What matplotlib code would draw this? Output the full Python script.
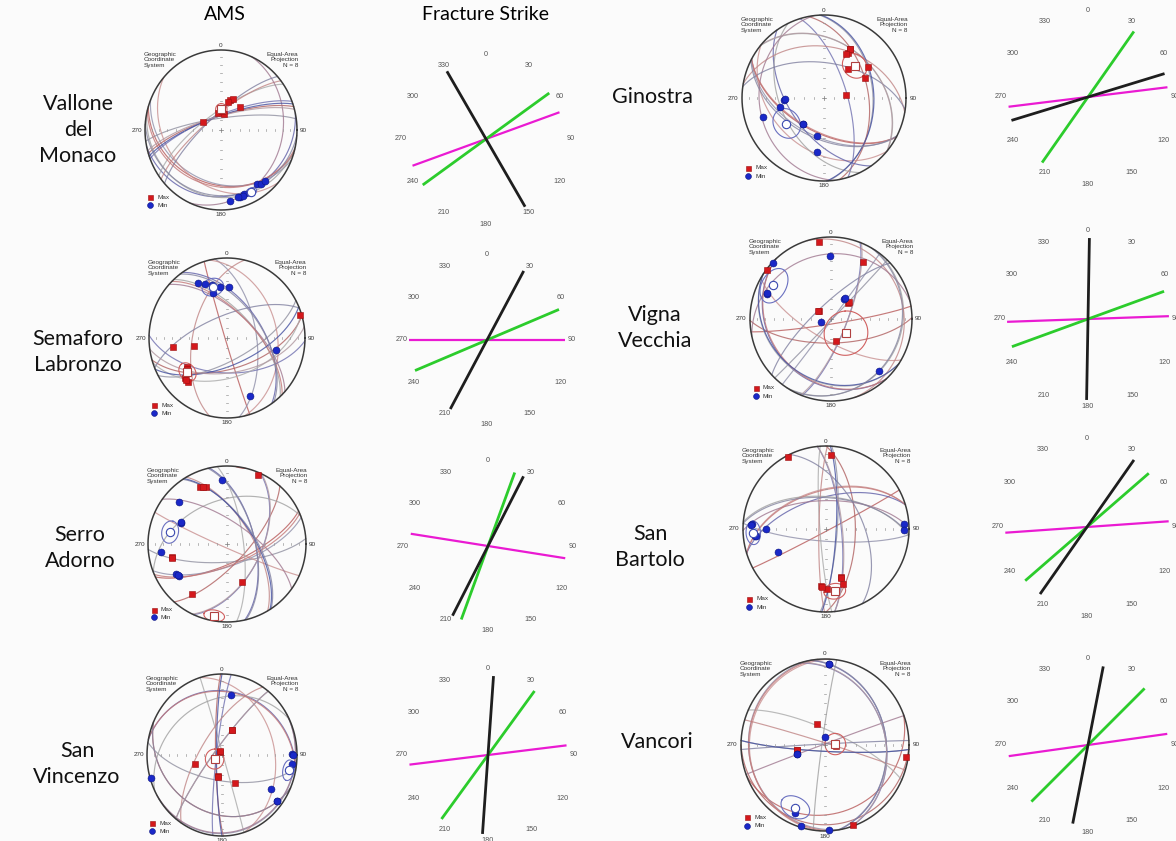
import numpy as np
import matplotlib
matplotlib.use('Agg')
import matplotlib.pyplot as plt

# sites, left column then right column
SITES = ['Vallone\ndel\nMonaco', 'Semaforo\nLabronzo', 'Serro\nAdorno', 'San\nVincenzo',
         'Ginostra', 'Vigna\nVecchia', 'San\nBartolo', 'Vancori']

# AMS principal axes per specimen (trend, plunge in degrees), 8 specimens per site
KMAX_TREND = [[17, 22, 41, 348, 12, 294, 14, 4],
              [73, 261, 257, 235, 227, 222, 225, 233],
              [335, 340, 24, 257, 159, 215, 337, 256],
              [24, 327, 253, 191, 154, 330, 192, 24],
              [28, 28, 40, 55, 64, 83, 28, 27],
              [351, 307, 30, 47, 303, 168, 47, 300],
              [332, 4, 163, 163, 185, 179, 163, 184],
              [339, 78, 93, 260, 98, 160, 85, 261]]
KMAX_PLUNGE = [[58, 56, 59, 72, 73, 69, 60, 71],
               [2, 31, 54, 37, 28, 27, 27, 36],
               [20, 23, 4, 29, 47, 23, 22, 29],
               [62, 86, 59, 68, 58, 85, 67, 62],
               [34, 38, 53, 35, 44, 68, 33, 40],
               [5, 1, 21, 66, 76, 68, 65, 75],
               [2, 12, 39, 31, 32, 28, 38, 31],
               [69, 80, 79, 62, 3, 1, 80, 62]]
KMIN_TREND = [[172, 163, 159, 145, 142, 138, 161, 165],
              [332, 344, 2, 342, 103, 158, 337, 352],
              [356, 312, 295, 263, 239, 236, 237, 296],
              [9, 89, 97, 253, 123, 128, 90, 128],
              [267, 259, 253, 219, 190, 188, 268, 220],
              [314, 359, 291, 33, 253, 137, 33, 292],
              [274, 270, 264, 86, 91, 244, 273, 264],
              [3, 0, 252, 204, 197, 177, 3, 253]]
KMIN_PLUNGE = [[12, 14, 15, 18, 15, 15, 14, 14],
               [23, 32, 36, 41, 36, 23, 28, 36],
               [19, 20, 36, 17, 26, 28, 27, 36],
               [26, 7, 6, 1, 23, 8, 6, 8],
               [50, 45, 23, 57, 52, 35, 51, 57],
               [1, 24, 16, 66, 79, 15, 65, 16],
               [11, 29, 15, 6, 7, 36, 10, 16],
               [6, 82, 61, 14, 2, 1, 6, 61]]

# site means (trend, plunge) and confidence half-angles
KMAX_MEAN = [(1, 69), (230, 34), (190, 7), (243, 81), (44, 45), (133, 69), (172, 25), (85, 80)]
KMIN_MEAN = [(153, 14), (344, 34), (282, 27), (102, 10), (236, 44), (300, 19), (267, 13), (206, 20)]
KMAX_A95 = [6, 9, 8, 10, 12, 22, 9, 10]
KMIN_A95 = [5, 10, 10, 8, 14, 15, 9, 12]

# fracture strike diagram directions (degrees from north)
STRIKE_BLACK = [330, 28, 27, 4, 73, 1, 35, 11]
STRIKE_GREEN = [54, 67, 20, 36, 35, 70, 49, 45]
STRIKE_MAGENTA = [70, 90, 99, 83, 83, 88, 86, 82]
ROSE_LABELS = [str(a) for a in range(0, 360, 30)]

# layout in pixels: stereonet centre and radii, rose centre and label radius
NET_POS = [(221, 130, 76, 80), (227, 338, 78, 80), (227, 544, 79, 78), (222, 755, 75, 81),
           (824, 98, 82, 83), (831, 319, 81, 82), (826, 529, 83, 83), (825, 745, 84, 86)]
ROSE_POS = [(486, 139, 85), (487, 340, 85), (488, 546, 85), (488, 755, 86),
            (1088, 97, 87), (1088, 319, 88), (1087, 527, 89), (1088, 745, 87)]
NAME_POS = [(78, 130), (78, 352), (80, 548), (77, 764), (652, 97), (655, 328), (650, 547), (657, 742)]

KMAX_PLANE_COLORS = ['#b85a5a', '#9090aa', '#c99090', '#6060a8', '#a0a0a0', '#a07890', '#c47878', '#8585a0']
KMIN_PLANE_COLORS = ['#9090a0', '#b06060', '#7070b0', '#aaaaaa', '#c08585', '#8080a0', '#4450a0', '#b098a0']

W, H = 1176, 841
plt.rcParams['font.family'] = ['Liberation Sans', 'DejaVu Sans']
fig = plt.figure(figsize=(W / 100, H / 100), dpi=100, facecolor='#fbfbfb')


def place(cx, cy, rx, ry, lim):
    ax = fig.add_axes([(cx - lim * rx) / W, (H - cy - lim * ry) / H, 2 * lim * rx / W, 2 * lim * ry / H])
    ax.set_xlim(-lim, lim)
    ax.set_ylim(-lim, lim)
    ax.axis('off')
    return ax


def unit(tr, pl):
    tr, pl = np.radians(tr), np.radians(pl)
    return np.array([np.cos(pl) * np.sin(tr), np.cos(pl) * np.cos(tr), np.sin(pl)])


def project(v):
    # lower hemisphere equal-area (Schmidt) projection, primitive radius 1
    v = np.atleast_2d(v).copy()
    up = v[:, 2] < 0
    v[up] *= -1
    k = 1 / np.sqrt(1 + v[:, 2])
    return v[:, 0] * k, v[:, 1] * k


def great_circle(tr, pl):
    # plane whose pole is (tr, pl)
    t, p = np.radians(tr), np.radians(pl)
    u1 = np.array([np.sin(t + np.pi / 2), np.cos(t + np.pi / 2), 0.0])
    u2 = np.array([-np.sin(p) * np.sin(t), -np.sin(p) * np.cos(t), np.cos(p)])
    th = np.linspace(0, np.pi, 181)
    return project(np.outer(np.cos(th), u1) + np.outer(np.sin(th), u2))


def small_circle(tr, pl, ang):
    m = unit(tr, pl)
    ref = np.array([0, 0, 1.0]) if abs(m[2]) < 0.9 else np.array([1.0, 0, 0])
    u1 = np.cross(m, ref)
    u1 /= np.linalg.norm(u1)
    u2 = np.cross(m, u1)
    ph = np.linspace(0, 2 * np.pi, 121)
    a = np.radians(ang)
    v = np.cos(a) * m + np.sin(a) * (np.outer(np.cos(ph), u1) + np.outer(np.sin(ph), u2))
    x, y = project(v)
    flip = np.where(np.diff(np.sign(v[:, 2])) != 0)[0]
    x, y = np.insert(x, flip + 1, np.nan), np.insert(y, flip + 1, np.nan)
    return x, y


def stereonet(ax, i):
    small = dict(fontsize=4.6, color='#333333', linespacing=1.15)
    for j in range(8):
        ax.plot(*great_circle(KMAX_TREND[i][j], KMAX_PLUNGE[i][j]), color=KMAX_PLANE_COLORS[j], lw=0.85, alpha=0.8)
        ax.plot(*great_circle(KMIN_TREND[i][j], KMIN_PLUNGE[i][j]), color=KMIN_PLANE_COLORS[j], lw=0.85, alpha=0.8)
    ax.plot(*small_circle(*KMAX_MEAN[i], KMAX_A95[i]), color='#d06060', lw=0.8)
    ax.plot(*small_circle(*KMIN_MEAN[i], KMIN_A95[i]), color='#6a70c0', lw=0.8)

    # primitive circle and tick marks along the axes
    th = np.linspace(0, 2 * np.pi, 361)
    ax.plot(np.cos(th), np.sin(th), color='#3a3a3a', lw=1.1)
    r = np.sqrt(1 - np.sin(np.radians(np.arange(0, 90, 10))))
    for s in (-1, 1):
        for rr in r[1:]:
            ax.plot([s * rr, s * rr], [-0.016, 0.016], color='#9a9a9a', lw=0.5)
            ax.plot([-0.016, 0.016], [s * rr, s * rr], color='#9a9a9a', lw=0.5)
    ax.plot([-0.025, 0.025], [0, 0], color='#777777', lw=0.5)
    ax.plot([0, 0], [-0.025, 0.025], color='#777777', lw=0.5)

    xs, ys = project(np.array([unit(t, p) for t, p in zip(KMAX_TREND[i], KMAX_PLUNGE[i])]))
    ax.plot(xs, ys, 's', ms=4.2, mfc='#d4181c', mec='#9a1010', mew=0.4, zorder=5)
    xs, ys = project(np.array([unit(t, p) for t, p in zip(KMIN_TREND[i], KMIN_PLUNGE[i])]))
    ax.plot(xs, ys, 'o', ms=5.0, mfc='#1a28c8', mec='#0c1680', mew=0.4, zorder=5)
    xm, ym = project(unit(*KMAX_MEAN[i]))
    ax.plot(xm, ym, 's', ms=5.5, mfc='white', mec='#b04040', mew=0.8, zorder=6)
    xm, ym = project(unit(*KMIN_MEAN[i]))
    ax.plot(xm, ym, 'o', ms=6.0, mfc='white', mec='#3a48b0', mew=0.8, zorder=6)

    ax.text(0, 1.03, '0', ha='center', va='bottom', **small)
    ax.text(0, -1.03, '180', ha='center', va='top', **small)
    ax.text(-1.04, 0, '270', ha='right', va='center', **small)
    ax.text(1.04, 0, '90', ha='left', va='center', **small)
    ax.text(-1.02, 0.98, 'Geographic\nCoordinate\nSystem', ha='left', va='top', **small)
    ax.text(1.02, 0.98, 'Equal-Area\nProjection\nN = 8', ha='right', va='top', **small)
    ax.plot(-0.93, -0.84, 's', ms=3.6, mfc='#d4181c', mec='#9a1010', mew=0.4)
    ax.plot(-0.93, -0.94, 'o', ms=4.2, mfc='#1a28c8', mec='#0c1680', mew=0.4)
    ax.text(-0.84, -0.84, 'Max', ha='left', va='center', **small)
    ax.text(-0.84, -0.94, 'Min', ha='left', va='center', **small)


def rose(ax, i, lim_len):
    for a, lab in zip(range(0, 360, 30), ROSE_LABELS):
        ax.text(np.sin(np.radians(a)), np.cos(np.radians(a)), lab, ha='center', va='center',
                fontsize=5.2, color='#555555')
    for strike, col, lw in ((STRIKE_MAGENTA[i], '#ea1ad2', 1.6), (STRIKE_GREEN[i], '#2ccc2c', 2.0),
                            (STRIKE_BLACK[i], '#1e1e1e', 2.0)):
        t = np.radians(strike)
        ax.plot([lim_len * np.sin(t), -lim_len * np.sin(t)], [lim_len * np.cos(t), -lim_len * np.cos(t)],
                color=col, lw=lw, solid_capstyle='butt')


for i in range(8):
    cx, cy, rx, ry = NET_POS[i]
    stereonet(place(cx, cy, rx, ry, 1.35), i)
    cx, cy, rl = ROSE_POS[i]
    rose(place(cx, cy, rl, rl, 1.1), i, 0.92)
    nx, ny = NAME_POS[i]
    fig.text(nx / W, 1 - ny / H, SITES[i], ha='center', va='center', fontsize=15.5,
             family=['Lato', 'DejaVu Sans'], linespacing=1.38, color='#111111')

fig.text(225 / W, 1 - 14 / H, 'AMS', ha='center', va='center', fontsize=14, family=['Lato', 'DejaVu Sans'])
fig.text(485 / W, 1 - 14 / H, 'Fracture Strike', ha='center', va='center', fontsize=14,
         family=['Lato', 'DejaVu Sans'])

fig.savefig('out.png', dpi=100, facecolor=fig.get_facecolor())
